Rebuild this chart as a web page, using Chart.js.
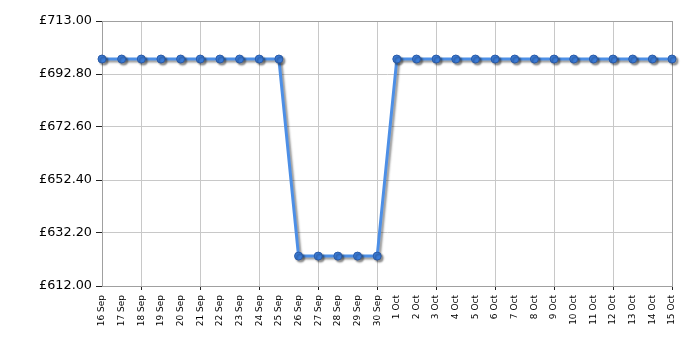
<!DOCTYPE html>
<html>
<head>
<meta charset="utf-8">
<script src="https://cdn.jsdelivr.net/npm/chart.js@4"></script>
<style>
  html, body { margin: 0; padding: 0; background: #fff; }
  #wrap { width: 700px; height: 350px; }
</style>
</head>
<body>
<div id="wrap"><canvas id="priceChart" width="700" height="350"></canvas></div>
<script>
// price history data
const dates = ['16 Sep', '17 Sep', '18 Sep', '19 Sep', '20 Sep', '21 Sep', '22 Sep', '23 Sep', '24 Sep', '25 Sep',
               '26 Sep', '27 Sep', '28 Sep', '29 Sep', '30 Sep', '1 Oct', '2 Oct', '3 Oct', '4 Oct', '5 Oct',
               '6 Oct', '7 Oct', '8 Oct', '9 Oct', '10 Oct', '11 Oct', '12 Oct', '13 Oct', '14 Oct', '15 Oct'];
const prices = [698.5, 698.5, 698.5, 698.5, 698.5, 698.5, 698.5, 698.5, 698.5, 698.5,
                623.4, 623.4, 623.4, 623.4, 623.4, 698.5, 698.5, 698.5, 698.5, 698.5,
                698.5, 698.5, 698.5, 698.5, 698.5, 698.5, 698.5, 698.5, 698.5, 698.5];
const yTicks = [612.00, 632.20, 652.40, 672.60, 692.80, 713.00];

// vertical grid every third day, starting at 18 Sep
const onGrid = (i) => i >= 2 && (i - 2) % 3 === 0;

// drop shadow under the line and points
const shadowPlugin = {
    id: 'shadow',
    beforeDatasetsDraw(chart) {
        const ctx = chart.ctx;
        ctx.save();
        ctx.shadowColor = 'rgba(0,0,0,0.4)';
        ctx.shadowBlur = 2;
        ctx.shadowOffsetX = 2;
        ctx.shadowOffsetY = 2;
    },
    afterDatasetsDraw(chart) {
        chart.ctx.restore();
    }
};

// grey box round the plot
const framePlugin = {
    id: 'frame',
    beforeDatasetsDraw(chart) {
        const { ctx, chartArea: a } = chart;
        ctx.save();
        ctx.strokeStyle = '#a0a0a0';
        ctx.lineWidth = 1;
        ctx.strokeRect(Math.round(a.left) + 0.5, Math.round(a.top) + 0.5,
                       Math.round(a.right - a.left), Math.round(a.bottom - a.top));
        ctx.restore();
    }
};

const ctx = document.getElementById('priceChart').getContext('2d');
new Chart(ctx, {
    type: 'line',
    data: {
        labels: dates,
        datasets: [{
            data: prices,
            borderColor: '#4d8fe6',
            borderWidth: 3,
            pointRadius: 4,
            pointBackgroundColor: '#3b7cd8',
            pointBorderColor: '#2a5aa6',
            pointBorderWidth: 1,
            tension: 0,
            clip: false
        }]
    },
    options: {
        responsive: false,
        animation: false,
        layout: { padding: { left: 0, right: 28, top: 21, bottom: 0 } },
        plugins: {
            legend: { display: false },
            tooltip: { enabled: false }
        },
        scales: {
            x: {
                offset: false,
                grid: {
                    color: (c) => onGrid(c.index) ? '#c8c8c8' : 'rgba(0,0,0,0)',
                    tickColor: (c) => onGrid(c.index) ? '#222' : 'rgba(0,0,0,0)',
                    tickLength: 4
                },
                border: { color: '#a0a0a0' },
                ticks: {
                    autoSkip: false,
                    minRotation: 90,
                    maxRotation: 90,
                    padding: 5,
                    color: '#000',
                    font: { family: 'DejaVu Sans', size: 9 }
                },
                afterFit: (scale) => { scale.height = 64; }
            },
            y: {
                min: 612,
                max: 713,
                grid: {
                    color: '#c8c8c8',
                    tickColor: '#222',
                    tickLength: 6
                },
                border: { color: '#a0a0a0' },
                afterBuildTicks: (scale) => {
                    scale.ticks = yTicks.map(v => ({ value: v }));
                },
                ticks: {
                    padding: 4,
                    color: '#000',
                    font: { family: 'DejaVu Sans', size: 12.8 },
                    callback: (v) => '£' + Number(v).toFixed(2)
                },
                afterFit: (scale) => { scale.width = 102; }
            }
        }
    },
    plugins: [framePlugin, shadowPlugin]
});
</script>
</body>
</html>
